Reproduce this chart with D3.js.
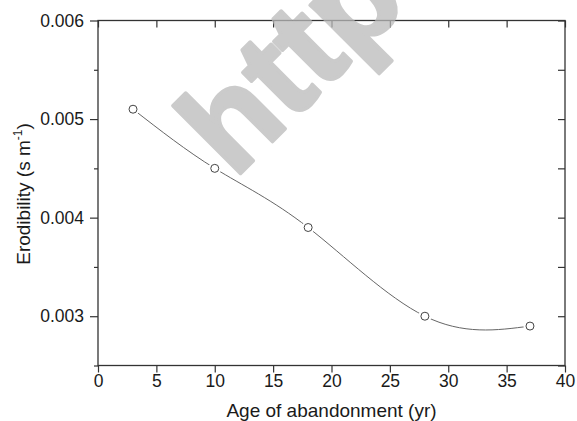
<!DOCTYPE html>
<html lang="en">
<head>
  <meta charset="UTF-8">
  <title>Erodibility</title>
  <style>
    body { margin: 0; background: #fff; }
    text { font-family: "Liberation Sans", Arial, Helvetica, sans-serif; }
  </style>
</head>
<body>
  <svg id="svg" width="577" height="421"></svg>

  <script src="https://d3js.org/d3.v7.min.js"></script>
  <script>
    // data
    const ages = [3, 10, 18, 28, 37]
    const erodibility = [0.0051, 0.0045, 0.0039, 0.0030, 0.0029]

    const xTicks = [0, 5, 10, 15, 20, 25, 30, 35, 40]
    const yTicks = [0.003, 0.004, 0.005, 0.006]
    const yMinorTicks = [0.0025, 0.0035, 0.0045, 0.0055]

    const data = ages.map((a, i) => ({ age: a, value: erodibility[i] }))

    const svg = d3.select("#svg")

    const plotLeft = 98, plotRight = 565, plotTop = 20.5, plotBottom = 365.5
    const axisColor = "#333"

    const xScale = d3.scaleLinear()
      .domain([0, 40])
      .range([plotLeft, plotRight])

    const yScale = d3.scaleLinear()
      .domain([0.0025, 0.006])
      .range([plotBottom, plotTop])

    // curve through the points
    svg.append("path")
      .datum(data)
      .attr("d", d3.line()
        .x(d => xScale(d.age))
        .y(d => yScale(d.value))
        .curve(d3.curveNatural))
      .attr("fill", "none")
      .attr("stroke", "#666")
      .attr("stroke-width", 1)

    // white halo so the line stops short of each marker
    svg.selectAll(".halo")
      .data(data)
      .enter()
      .append("circle")
      .attr("cx", d => xScale(d.age))
      .attr("cy", d => yScale(d.value))
      .attr("r", 6.5)
      .attr("fill", "#fff")

    svg.selectAll(".pt")
      .data(data)
      .enter()
      .append("circle")
      .attr("cx", d => xScale(d.age))
      .attr("cy", d => yScale(d.value))
      .attr("r", 4)
      .attr("fill", "#fff")
      .attr("stroke", "#444")
      .attr("stroke-width", 1)

    const styleAxis = g => {
      g.select(".domain").remove()
      g.selectAll("line").attr("stroke", axisColor).attr("stroke-width", 1.2)
      g.selectAll("text")
        .attr("fill", "#1a1a1a")
        .style("font-size", "17.5px")
    }

    // bottom
    svg.append("g")
      .attr("transform", `translate(0,${plotBottom})`)
      .call(d3.axisBottom(xScale).tickValues(xTicks).tickSize(7).tickPadding(2))
      .call(styleAxis)

    // top, inward ticks only
    svg.append("g")
      .attr("transform", `translate(0,${plotTop})`)
      .call(d3.axisTop(xScale).tickValues(xTicks).tickSize(-7).tickFormat(""))
      .call(styleAxis)

    // left, major + minor
    svg.append("g")
      .attr("transform", `translate(${plotLeft},0)`)
      .call(d3.axisLeft(yScale).tickValues(yTicks).tickSize(8).tickPadding(6)
        .tickFormat(d3.format(".3f")))
      .call(styleAxis)

    svg.append("g")
      .attr("transform", `translate(${plotLeft},0)`)
      .call(d3.axisLeft(yScale).tickValues(yMinorTicks).tickSize(4).tickFormat(""))
      .call(styleAxis)

    // right, inward ticks
    svg.append("g")
      .attr("transform", `translate(${plotRight},0)`)
      .call(d3.axisRight(yScale).tickValues(yTicks.concat(yMinorTicks)).tickSize(-7).tickFormat(""))
      .call(styleAxis)

    // frame
    svg.append("rect")
      .attr("x", plotLeft)
      .attr("y", plotTop)
      .attr("width", plotRight - plotLeft)
      .attr("height", plotBottom - plotTop)
      .attr("fill", "none")
      .attr("stroke", axisColor)
      .attr("stroke-width", 1.3)

    // axis titles
    svg.append("text")
      .text("Age of abandonment (yr)")
      .attr("x", (plotLeft + plotRight) / 2)
      .attr("y", 416.5)
      .attr("text-anchor", "middle")
      .attr("fill", "#1a1a1a")
      .style("font-size", "19px")

    const yTitle = svg.append("text")
      .attr("transform", `translate(30,${(plotTop + plotBottom) / 2 + 1}) rotate(-90)`)
      .attr("text-anchor", "middle")
      .attr("fill", "#1a1a1a")
      .style("font-size", "19px")
    yTitle.append("tspan").text("Erodibility (s m")
    yTitle.append("tspan").text("-1").attr("dy", -8).style("font-size", "12px")
    yTitle.append("tspan").text(")").attr("dy", 8)

    // watermark, semi-transparent over everything
    svg.append("text")
      .text("http")
      .attr("transform", "translate(234,180) rotate(-45)")
      .style("font-size", "132px")
      .style("font-weight", "bold")
      .attr("fill", "#b9b9b9")
      .attr("stroke", "#b9b9b9")
      .attr("stroke-width", 3.5)
      .attr("stroke-linejoin", "round")
      .attr("opacity", 0.74)
  </script>
</body>
</html>
